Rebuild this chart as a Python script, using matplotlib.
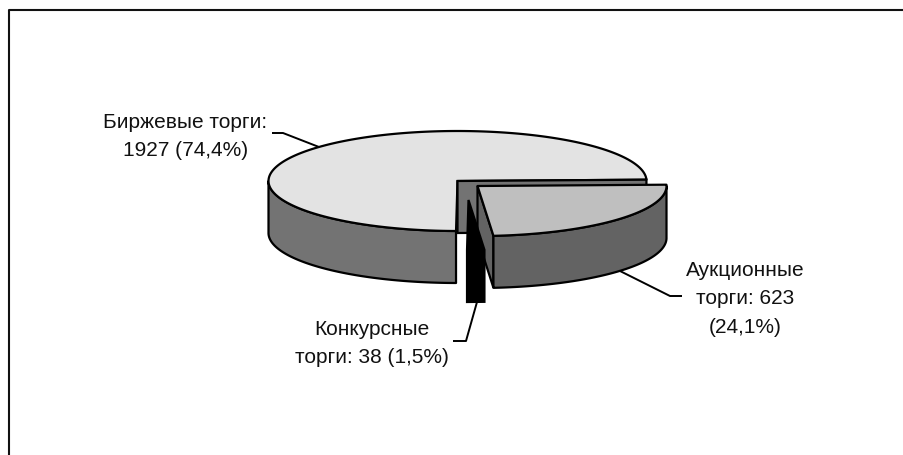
import numpy as np
import matplotlib
matplotlib.use("Agg")
import matplotlib.pyplot as plt
from matplotlib.patches import Polygon

# values
names = ["Аукционные", "Конкурсные", "Биржевые"]
values = [623, 38, 1927]
labels = ["Аукционные\nторги: 623\n(24,1%)", "Конкурсные\nторги: 38 (1,5%)", "Биржевые торги:\n1927 (74,4%)"]

plt.rcParams['font.family'] = ['Liberation Sans', 'DejaVu Sans']

# pie geometry in pixels
cx, cy = 457.5, 182.0
rx, ry = 189.0, 50.0
depth = 52.0
start = 1.5
shifts = [(20, 5), (11, 19), (0, 0)]
tops = ["#bfbfbf", "#000000", "#e3e3e3"]
walls = ["#636363", "#000000", "#737373"]
edge = "#000000"
lw = 1.6

figure = plt.figure(figsize=(9.04, 4.56), dpi=100)
axis = figure.add_axes([0, 0, 1, 1])
axis.set_xlim(0, 904)
axis.set_ylim(456, 0)
axis.axis("off")

# frame, only left and top are in the picture
axis.plot([9.5, 9.5, 904], [456, 10.5, 10.5], color="#111111", lw=1.5, solid_capstyle="butt")


def arc(x0, y0, a, b):
    t = np.radians(np.linspace(a, b, 200))
    return x0 + rx * np.cos(t), y0 - ry * np.sin(t)


def draw_slice(i, a, b):
    x0 = cx + shifts[i][0]
    y0 = cy + shifts[i][1]
    # outer wall is only seen on the front half
    lo = max(a, -180.0)
    hi = min(b, 0.0)
    if hi > lo:
        x, y = arc(x0, y0, lo, hi)
        pts = np.r_[np.c_[x, y], np.c_[x[::-1], y[::-1] + depth]]
        axis.add_patch(Polygon(pts, closed=True, fc=walls[i], ec=edge, lw=lw, joinstyle="round"))
    x, y = arc(x0, y0, a, b)
    pts = np.r_[[[x0, y0]], np.c_[x, y]]
    axis.add_patch(Polygon(pts, closed=True, fc=tops[i], ec=edge, lw=lw, joinstyle="round"))


sweeps = np.array(values) / sum(values) * 360
ends = start - np.cumsum(sweeps)
starts = np.r_[start, ends[:-1]]

# main slice first, it lies behind the others
a_main, b_main = ends[2], starts[2]
draw_slice(2, a_main, b_main)

# cut wall of the main slice, looks at the viewer
x, y = arc(cx, cy, start, start)
axis.add_patch(Polygon([[cx, cy], [x[0], y[0]], [x[0], y[0] + depth], [cx, cy + depth]],
                       closed=True, fc=walls[2], ec=edge, lw=lw))

# side wall of the big cut-out piece
x0, y0 = cx + shifts[0][0], cy + shifts[0][1]
x, y = arc(x0, y0, ends[0], ends[0])
axis.add_patch(Polygon([[x0, y0], [x[0], y[0]], [x[0], y[0] + depth], [x0, y0 + depth]],
                       closed=True, fc=walls[0], ec=edge, lw=lw))
draw_slice(0, ends[0], starts[0])

# thin black slice on top
x0, y0 = cx + shifts[1][0], cy + shifts[1][1]
x, y = arc(x0, y0, ends[1], starts[1])
axis.add_patch(Polygon([[x0, y0], [x[0], y[0]], [x[0], y[0] + depth], [x[-1], y[-1] + depth], [x[-1], y[-1]]],
                       closed=True, fc="#000000", ec=edge, lw=lw))

# labels and leader lines
text_pos = [(745, 299), (372, 343.5), (185.5, 136.5)]
leaders = [([682, 670, 620], [297, 297, 272]),
           ([453, 466, 477], [342, 342, 303]),
           ([272, 283, 319], [134, 134, 148])]
for lab, pos, line in zip(labels, text_pos, leaders):
    axis.plot(line[0], line[1], color="#000000", lw=1.4, solid_capstyle="butt")
    axis.text(pos[0], pos[1], lab, ha="center", va="center", fontsize=15,
              color="#111111", linespacing=1.62)

figure.savefig("out.png", dpi=100)
